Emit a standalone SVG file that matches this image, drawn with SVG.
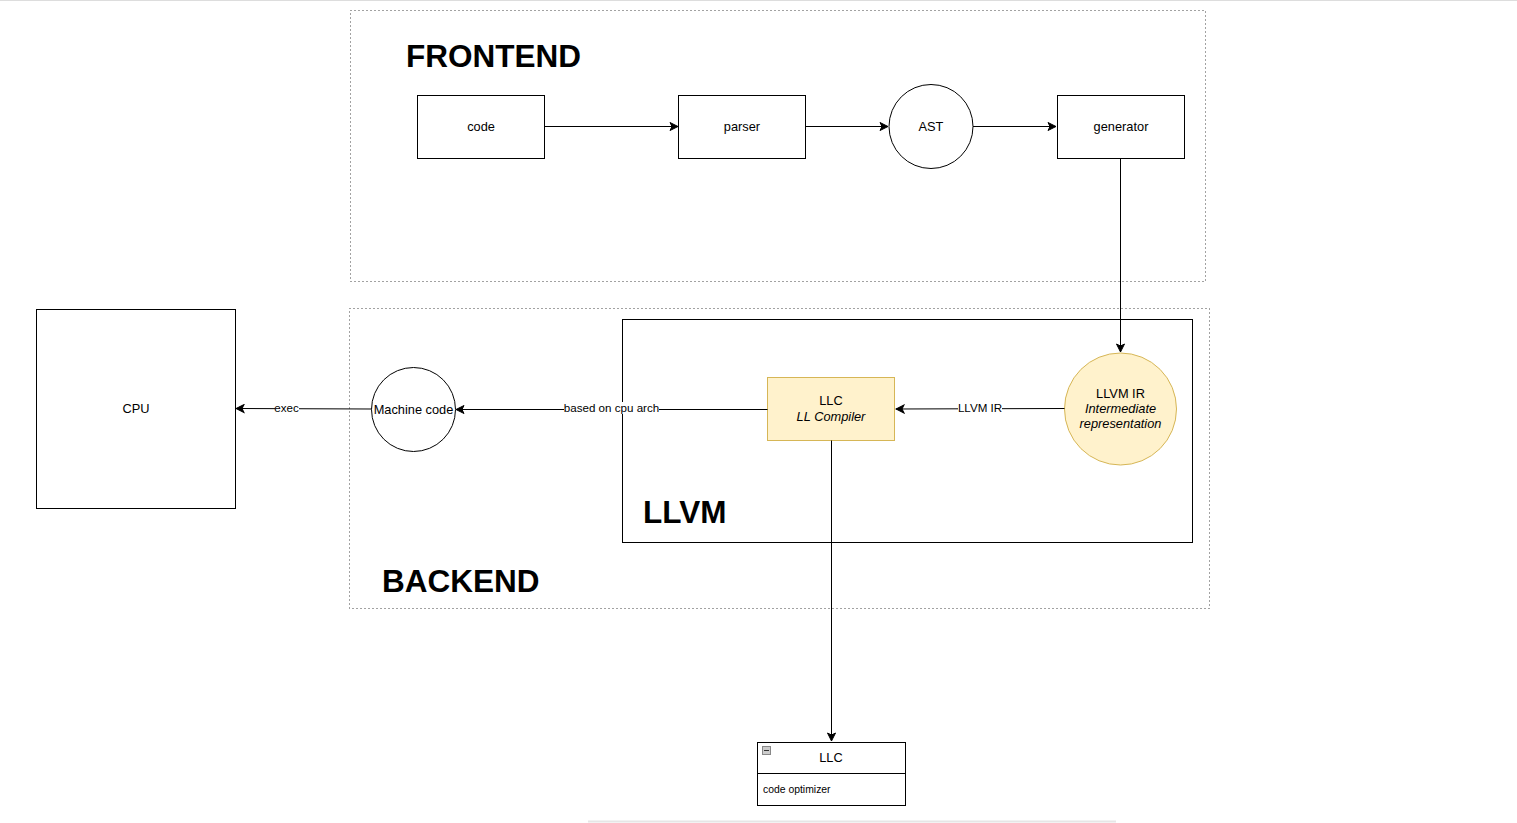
<svg xmlns="http://www.w3.org/2000/svg" width="1517" height="823" viewBox="0 0 1517 823">
<defs>
<marker id="arr" markerWidth="10" markerHeight="10" refX="9" refY="5" orient="auto" markerUnits="userSpaceOnUse">
<path d="M1,1 L9,5 L1,9 L3,5 Z" fill="#000" stroke="#000" stroke-width="1"/>
</marker>
<style>
text{font-family:"Liberation Sans",Arial,sans-serif;fill:#000}
.box{fill:#fff;stroke:#000;stroke-width:1}
.dot{fill:none;stroke:#444;stroke-width:1;stroke-dasharray:1 3}
.lbl{font-size:12.8px;text-anchor:middle}
.big{font-size:31.5px;font-weight:bold}
.edge{fill:none;stroke:#000;stroke-width:1;marker-end:url(#arr)}
.yel{fill:#fff2cc;stroke:#d6b656;stroke-width:1}
.elbl{font-size:11.6px;text-anchor:middle}
</style>
</defs>
<rect width="1517" height="823" fill="#fff"/>
<line x1="0" y1="0.5" x2="1517" y2="0.5" stroke="#ddd"/>
<line x1="588" y1="821.5" x2="1116" y2="821.5" stroke="#e6e6e6" stroke-width="2"/>
<g id="frontend"><rect class="dot" x="350.5" y="10.5" width="855" height="271"/><text class="big" x="406" y="67">FRONTEND</text></g>
<g id="backend"><rect class="dot" x="349.5" y="308.5" width="860" height="300"/><text class="big" x="382" y="592">BACKEND</text></g>
<g id="llvm"><rect class="box" x="622.5" y="319.5" width="570" height="223"/><text class="big" x="643" y="523">LLVM</text></g>
<g id="code"><rect class="box" x="417.5" y="95.5" width="127" height="63"/><text class="lbl" x="481" y="131">code</text></g>
<g id="parser"><rect class="box" x="678.5" y="95.5" width="127" height="63"/><text class="lbl" x="742" y="131">parser</text></g>
<g id="ast"><circle class="box" cx="931" cy="126.5" r="42"/><text class="lbl" x="931" y="131">AST</text></g>
<g id="generator"><rect class="box" x="1057.5" y="95.5" width="127" height="63"/><text class="lbl" x="1121" y="131">generator</text></g>
<g id="cpu"><rect class="box" x="36.5" y="309.5" width="199" height="199"/><text class="lbl" x="136" y="413">CPU</text></g>
<g id="machinecode"><circle class="box" cx="413.5" cy="409.5" r="42"/><text class="lbl" x="413.5" y="414">Machine code</text></g>
<g id="llc"><rect class="yel" x="767.5" y="377.5" width="127" height="63"/><text class="lbl" x="831" y="405">LLC</text><text class="lbl" x="831" y="421" font-style="italic">LL Compiler</text></g>
<g id="llvmir"><circle class="yel" cx="1120.5" cy="409" r="56"/><text class="lbl" x="1120.5" y="398">LLVM IR</text><text class="lbl" x="1120.5" y="413" font-style="italic">Intermediate</text><text class="lbl" x="1120.5" y="428" font-style="italic">representation</text></g>
<g id="llcopt"><rect class="box" x="757.5" y="742.5" width="148" height="63"/><line x1="757.5" y1="773.5" x2="905.5" y2="773.5" stroke="#000"/><rect x="762.5" y="746.5" width="8" height="8" fill="#ccc" stroke="#888"/><line x1="764" y1="750.5" x2="769" y2="750.5" stroke="#333"/><text class="lbl" x="831" y="762">LLC</text><text x="763" y="793" font-size="10.4px">code optimizer</text></g>
<g id="connectors">
<line class="edge" x1="544.5" y1="126.5" x2="678" y2="126.5"/>
<line class="edge" x1="805.5" y1="126.5" x2="888" y2="126.5"/>
<line class="edge" x1="973" y1="126.5" x2="1056" y2="126.5"/>
<line class="edge" x1="1120.5" y1="158.5" x2="1120.5" y2="352"/>
<path class="edge" d="M1064.5,408.5 L896,409"/>
<line class="edge" x1="767.5" y1="409.5" x2="456" y2="409.5"/>
<line class="edge" x1="371.5" y1="409" x2="236" y2="408.5"/>
<line class="edge" x1="831.5" y1="440.5" x2="831.5" y2="741"/>
<rect x="958" y="402" width="44" height="12" fill="#fff"/><text class="elbl" x="980" y="412">LLVM IR</text>
<rect x="564" y="402" width="95" height="12" fill="#fff"/><text class="elbl" x="611.5" y="412">based on cpu arch</text>
<rect x="275" y="402" width="24" height="12" fill="#fff"/><text class="elbl" x="286.5" y="412">exec</text>
</g>
</svg>
